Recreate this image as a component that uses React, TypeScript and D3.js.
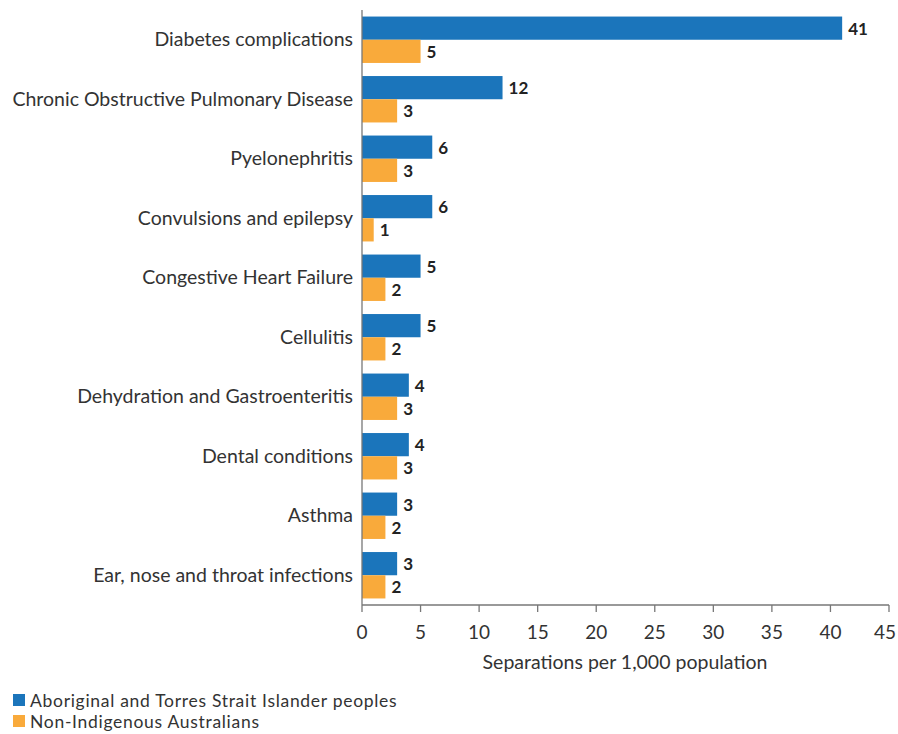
import React from 'react';
import * as d3 from 'd3';

const CATEGORIES = [
  'Diabetes complications',
  'Chronic Obstructive Pulmonary Disease',
  'Pyelonephritis',
  'Convulsions and epilepsy',
  'Congestive Heart Failure',
  'Cellulitis',
  'Dehydration and Gastroenteritis',
  'Dental conditions',
  'Asthma',
  'Ear, nose and throat infections',
];
const INDIGENOUS = [41, 12, 6, 6, 5, 5, 4, 4, 3, 3];
const NON_INDIGENOUS = [5, 3, 3, 1, 2, 2, 3, 3, 2, 2];
const X_TICKS = [0, 5, 10, 15, 20, 25, 30, 35, 40, 45];
const SERIES = [
  { name: 'Aboriginal and Torres Strait Islander peoples', color: '#1b75bb' },
  { name: 'Non-Indigenous Australians', color: '#f9aa3b' },
];

const W = 898;
const H = 734;
const FONT = "Lato, 'Open Sans', sans-serif";

export default function App() {
  const ref = React.useRef<SVGSVGElement>(null);

  React.useEffect(() => {
    const svg = d3.select(ref.current);
    svg.selectAll('*').remove();

    const x = d3.scaleLinear().domain([0, 45]).range([362, 889]);
    const y = d3.scaleBand<string>().domain(CATEGORIES).range([10, 605]).paddingInner(0.22).paddingOuter(0.11);
    const half = y.bandwidth() / 2;

    const g = svg.append('g');

    CATEGORIES.forEach((c, i) => {
      const y0 = y(c)!;
      const vals = [INDIGENOUS[i], NON_INDIGENOUS[i]];
      vals.forEach((v, k) => {
        g.append('rect')
          .attr('x', x(0))
          .attr('y', y0 + k * half)
          .attr('width', x(v) - x(0))
          .attr('height', half)
          .attr('fill', SERIES[k].color);
        g.append('text')
          .attr('x', x(v) + 6)
          .attr('y', y0 + k * half + half / 2)
          .attr('dominant-baseline', 'central')
          .attr('font-family', FONT)
          .attr('font-weight', 700)
          .attr('font-size', 17)
          .attr('fill', '#222')
          .text(v);
      });
      g.append('text')
        .attr('x', 353)
        .attr('y', y0 + half - 1)
        .attr('text-anchor', 'end')
        .attr('dominant-baseline', 'central')
        .attr('font-family', FONT)
        .attr('font-size', 19.5)
        .attr('fill', '#333')
        .text(c);
    });

    g.append('line')
      .attr('x1', x(0)).attr('x2', x(0))
      .attr('y1', 10).attr('y2', 605)
      .attr('stroke', '#777').attr('stroke-width', 1.3);

    const axis = g.append('g').attr('transform', 'translate(0,605)');
    axis.append('line')
      .attr('x1', x(0)).attr('x2', x(45))
      .attr('stroke', '#777').attr('stroke-width', 1.3);
    X_TICKS.forEach(t => {
      axis.append('line')
        .attr('x1', x(t)).attr('x2', x(t))
        .attr('y1', 0).attr('y2', 7)
        .attr('stroke', '#777').attr('stroke-width', 1.3);
      axis.append('text')
        .attr('x', t === 45 ? x(t) - 4 : x(t))
        .attr('y', 34)
        .attr('text-anchor', 'middle')
        .attr('font-family', FONT)
        .attr('font-size', 19)
        .attr('fill', '#333')
        .text(t);
    });

    g.append('text')
      .attr('x', 625)
      .attr('y', 669)
      .attr('text-anchor', 'middle')
      .attr('font-family', FONT)
      .attr('font-size', 19.5)
      .attr('fill', '#333')
      .text('Separations per 1,000 population');

    SERIES.forEach((s, i) => {
      const ly = 700 + i * 21;
      g.append('rect')
        .attr('x', 13).attr('y', ly - 6)
        .attr('width', 12).attr('height', 12)
        .attr('fill', s.color);
      g.append('text')
        .attr('x', 30)
        .attr('y', ly)
        .attr('dominant-baseline', 'central')
        .attr('font-family', FONT)
        .attr('font-size', 17.5)
        .attr('letter-spacing', 0.7)
        .attr('fill', '#333')
        .text(s.name);
    });
  }, []);

  return (
    <div style={{ position: 'absolute', left: 0, top: 0, width: W, height: H, background: '#fff' }}>
      <svg ref={ref} width={W} height={H} />
    </div>
  );
}
